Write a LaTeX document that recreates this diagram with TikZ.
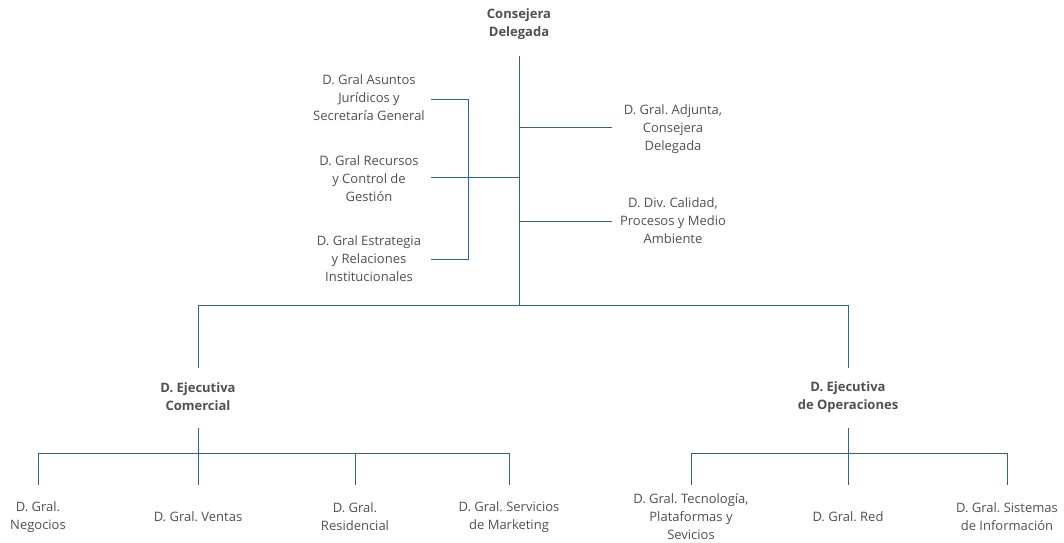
\documentclass[tikz,border=0pt]{standalone}
\usepackage{fontspec}
\setmainfont{Open Sans}
\usepackage{tikz}

\definecolor{orgline}{HTML}{2A62A8}
\definecolor{orgtext}{HTML}{505050}

\begin{document}
\frenchspacing
\begin{tikzpicture}[x=1pt, y=-1pt,
    unit/.style={align=center, text=orgtext, inner sep=0pt,
      font=\fontsize{13}{18}\selectfont},
    head/.style={unit, font=\fontsize{13}{18}\selectfont\bfseries},
    link/.style={draw=orgline, line width=0.9pt}]
    \useasboundingbox (0,0) rectangle (1064,542);

    \node[head] (cd) at (519,24) {Consejera\\Delegada};
    \node[unit] (aj) at (369,98) {D. Gral Asuntos\\Jurídicos y\\Secretaría General};
    \node[unit] (rc) at (369,179) {D. Gral Recursos\\y Control de\\Gestión};
    \node[unit] (er) at (369,259) {D. Gral Estrategia\\y Relaciones\\Institucionales};
    \node[unit] (ad) at (673,129) {D. Gral. Adjunta,\\Consejera\\Delegada};
    \node[unit] (ca) at (673,221) {D. Div. Calidad,\\Procesos y Medio\\Ambiente};

    \node[head] (ec) at (198,397) {D. Ejecutiva\\Comercial};
    \node[head] (eo) at (848,397) {D. Ejecutiva\\de Operaciones};

    \node[unit] (ne) at (38,517) {D. Gral.\\Negocios};
    \node[unit] (ve) at (198,517) {D. Gral. Ventas};
    \node[unit] (re) at (355,517) {D. Gral.\\Residencial};
    \node[unit] (sm) at (509,517) {D. Gral. Servicios\\de Marketing};
    \node[unit] (tp) at (691,517) {D. Gral. Tecnología,\\Plataformas y\\Sevicios};
    \node[unit] (rd) at (848,517) {D. Gral. Red};
    \node[unit] (si) at (1007,517) {D. Gral. Sistemas\\de Información};

    \coordinate (cdS) at (519,56);
    \coordinate (bar) at (519,305);
    \coordinate (barL) at (198,305);
    \coordinate (barR) at (848,305);
    \coordinate (ajE) at (431,99);
    \coordinate (rcE) at (431,177);
    \coordinate (erE) at (431,259);
    \coordinate (brT) at (468,99);
    \coordinate (brB) at (468,259);
    \coordinate (adW) at (612,127);
    \coordinate (caW) at (612,221);
    \coordinate (ecN) at (198,368);
    \coordinate (eoN) at (848,368);
    \coordinate (ecS) at (198,428);
    \coordinate (eoS) at (848,428);

    \draw[link] (cdS) -- (bar);
    \draw[link] (barL) -- (barR);
    \draw[link] (barL) -- (ecN);
    \draw[link] (barR) -- (eoN);
    \draw[link] (ajE) -- (brT) -- (brB) -- (erE);
    \draw[link] (rcE) -- (rcE -| bar);
    \draw[link] (adW -| bar) -- (adW);
    \draw[link] (caW -| bar) -- (caW);

    \draw[link] (ecS) -- (198,453);
    \draw[link] (38,453) -- (509,453);
    \foreach \n in {ne,ve,re,sm}
      \draw[link] (\n |- 0,453) -- (\n |- 0,485);
    \draw[link] (eoS) -- (848,453);
    \draw[link] (691,453) -- (1007,453);
    \foreach \n in {tp,rd,si}
      \draw[link] (\n |- 0,453) -- (\n |- 0,485);
\end{tikzpicture}
\end{document}
